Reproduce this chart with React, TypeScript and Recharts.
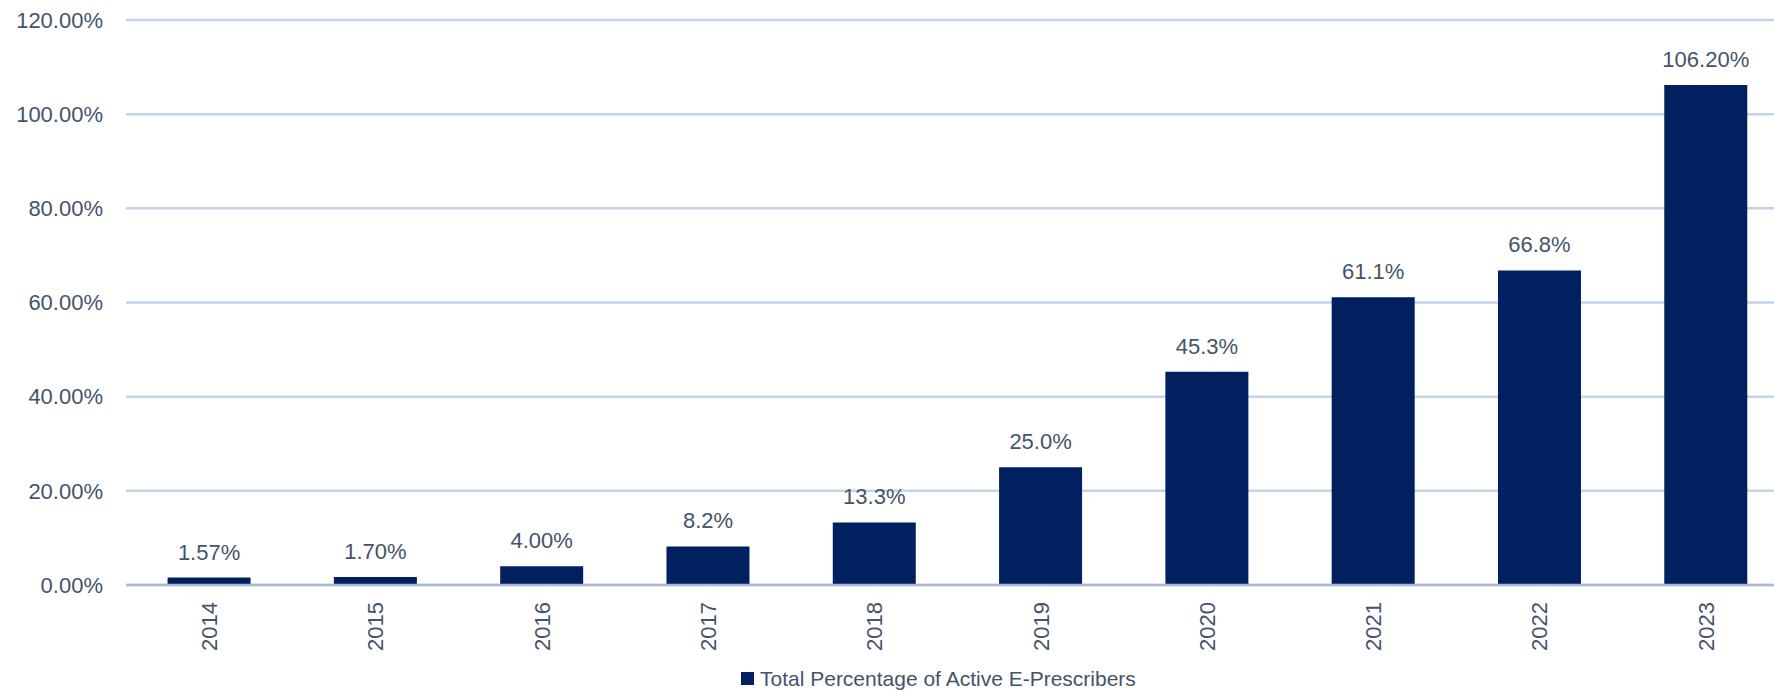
import { BarChart, Bar, XAxis, YAxis, CartesianGrid, Legend, LabelList } from 'recharts';

const years = ['2014', '2015', '2016', '2017', '2018', '2019', '2020', '2021', '2022', '2023'];
const activePct = [1.57, 1.7, 4.0, 8.2, 13.3, 25.0, 45.3, 61.1, 66.8, 106.2];
const pctLabels = ['1.57%', '1.70%', '4.00%', '8.2%', '13.3%', '25.0%', '45.3%', '61.1%', '66.8%', '106.20%'];
const yTicks = [0, 20, 40, 60, 80, 100, 120];

const data = years.map((year, i) => ({ year, value: activePct[i], label: pctLabels[i] }));

const TEXT = '#44546a';
const BAR = '#002060';
const FONT = '"Liberation Sans", Arial, sans-serif';

function YearTick({ x, y, payload }: any) {
  return (
    <text
      x={x}
      y={y}
      transform={`rotate(-90, ${x}, ${y})`}
      textAnchor="end"
      dy="0.36em"
      fill={TEXT}
      fontSize={22}
      fontFamily={FONT}
    >
      {payload.value}
    </text>
  );
}

function LegendBox() {
  return (
    <div
      style={{
        height: 37,
        boxSizing: 'border-box',
        paddingTop: 10,
        paddingLeft: 741,
        display: 'flex',
        alignItems: 'center',
        fontFamily: FONT,
        fontSize: 21,
        color: TEXT,
      }}
    >
      <span style={{ width: 13, height: 13, background: BAR, marginRight: 6, display: 'inline-block' }} />
      <span>Total Percentage of Active E-Prescribers</span>
    </div>
  );
}

export default function App() {
  return (
    <div style={{ position: 'absolute', left: 0, top: 0, width: 1774, height: 692, overflow: 'hidden', background: '#fff' }}>
      <BarChart
        width={1800}
        height={692}
        data={data}
        margin={{ top: 20, right: 11, left: 0, bottom: 0 }}
        barCategoryGap="25%"
      >
        <CartesianGrid vertical={false} stroke="#c3d3ea" strokeWidth={2.5} />
        <XAxis
          dataKey="year"
          height={70}
          tickLine={false}
          tickSize={0}
          tickMargin={17}
          axisLine={{ stroke: '#a9bad2', strokeWidth: 2.5 }}
          tick={<YearTick />}
          interval={0}
        />
        <YAxis
          width={126}
          domain={[0, 120]}
          ticks={yTicks}
          axisLine={false}
          tickLine={false}
          tickSize={0}
          tickMargin={23}
          tickFormatter={(v: number) => `${v.toFixed(2)}%`}
          tick={{ fill: TEXT, fontSize: 22, fontFamily: FONT }}
        />
        <Legend verticalAlign="bottom" height={37} content={<LegendBox />} wrapperStyle={{ left: 0, width: 1800 }} />
        <Bar dataKey="value" fill={BAR} isAnimationActive={false}>
          <LabelList dataKey="label" position="top" offset={18} fill={TEXT} fontSize={22} fontFamily={FONT} />
        </Bar>
      </BarChart>
    </div>
  );
}
